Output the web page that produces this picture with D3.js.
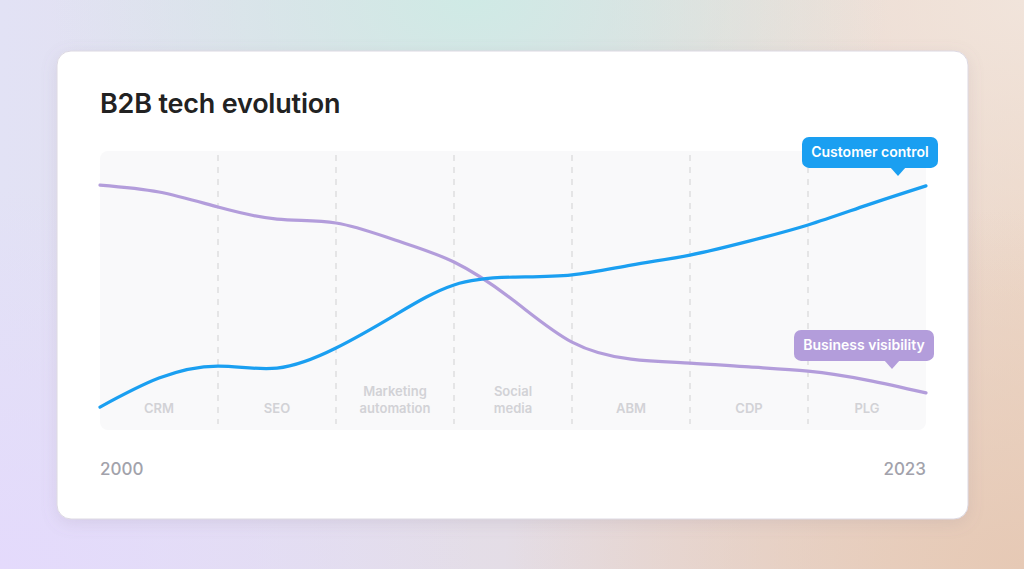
<!DOCTYPE html>
<html>
<head>
<meta charset="utf-8">
<script src="https://cdn.jsdelivr.net/npm/d3@7"></script>
<style>
  html, body { margin: 0; padding: 0; }
  body {
    width: 1024px; height: 569px; overflow: hidden;
    background:
      radial-gradient(ellipse 420px 260px at 470px 0px, #cfeae5 0%, rgba(207,234,229,0) 100%),
      radial-gradient(ellipse 520px 360px at 1024px 569px, #e6c9b5 0%, rgba(230,201,181,0) 100%),
      radial-gradient(ellipse 480px 380px at 0px 569px, #e4dafc 0%, rgba(228,218,252,0) 100%),
      radial-gradient(ellipse 420px 300px at 1024px 0px, #f1e4db 0%, rgba(241,228,219,0) 100%),
      linear-gradient(90deg, #e2e2f5 0%, #e4dde6 50%, #ecd7c8 100%);
    font-family: Inter, "Noto Sans", sans-serif;
  }
</style>
</head>
<body>
<div id="chart"></div>
<script>
// B2B tech evolution – two smoothed lines across seven eras

const stages = ["CRM", "SEO", "Marketing\nautomation", "Social\nmedia", "ABM", "CDP", "PLG"];
const steps = [0, 0.5, 1, 1.5, 2, 2.5, 3, 3.5, 4, 4.5, 5, 5.5, 6, 6.5, 7];
const control = [8.2, 18.6, 22.9, 22.2, 29.4, 41.2, 52, 54.8, 55.6, 59.1, 62.7, 67.7, 73.5, 80.6, 87.5];
const visibility = [87.8, 85.3, 79.9, 75.6, 74.2, 68.1, 60.2, 46.6, 31.5, 25.4, 24, 22.6, 21.1, 17.9, 13.3];
const yearLabels = ["2000", "2023"];

const W = 1024, H = 569;
const plot = { left: 100, right: 926, top: 151, bottom: 430 };

const svg = d3.select("#chart").append("svg")
  .attr("width", W)
  .attr("height", H);

const defs = svg.append("defs");
const sh = defs.append("filter").attr("id", "shadow")
  .attr("x", "-10%").attr("y", "-10%").attr("width", "120%").attr("height", "125%");
sh.append("feDropShadow")
  .attr("dx", 0).attr("dy", 4).attr("stdDeviation", 8)
  .attr("flood-color", "#8a7a90").attr("flood-opacity", 0.16);

// card
svg.append("rect")
  .attr("x", 57).attr("y", 51)
  .attr("width", 911).attr("height", 468)
  .attr("rx", 14)
  .attr("fill", "#fff")
  .attr("stroke", "#dcd8e2")
  .attr("filter", "url(#shadow)");

svg.append("text")
  .attr("x", 100).attr("y", 113)
  .attr("font-size", "27px")
  .attr("font-weight", 600)
  .attr("letter-spacing", "-0.2px")
  .attr("fill", "#222")
  .text("B2B tech evolution");

const x = d3.scaleLinear().domain([0, stages.length]).range([plot.left, plot.right]);
const y = d3.scaleLinear().domain([0, 100]).range([plot.bottom, plot.top]);

// plot background
svg.append("rect")
  .attr("x", plot.left).attr("y", plot.top)
  .attr("width", plot.right - plot.left)
  .attr("height", plot.bottom - plot.top)
  .attr("rx", 8)
  .attr("fill", "#f9f9fa");

// era dividers
svg.selectAll("line.div")
  .data(d3.range(1, stages.length))
  .enter().append("line")
    .attr("class", "div")
    .attr("x1", d => x(d)).attr("x2", d => x(d))
    .attr("y1", plot.top + 4).attr("y2", plot.bottom - 6)
    .attr("stroke", "#dedee0")
    .attr("stroke-width", 1.5)
    .attr("stroke-dasharray", "6,6");

// era labels
stages.forEach((s, i) => {
  const lines = s.split("\n");
  const t = svg.append("text")
    .attr("x", x(i + 0.5))
    .attr("text-anchor", "middle")
    .attr("font-size", "13px")
    .attr("font-weight", 600)
    .attr("fill", "#d2d2d6");
  lines.forEach((l, k) => {
    t.append("tspan")
      .attr("x", x(i + 0.5))
      .attr("y", 413 - (lines.length - 1 - k) * 17)
      .text(l);
  });
});

const line = d3.line()
  .x(d => x(d[0]))
  .y(d => y(d[1]))
  .curve(d3.curveNatural);

const series = [
  { name: "Business visibility", values: visibility, color: "#b39ddb", box: { w: 140, dx: 8, dy: -63, tip: -34 } },
  { name: "Customer control",   values: control,    color: "#1a9ff1", box: { w: 136, dx: 12, dy: -49, tip: -28 } }
];

series.forEach(s => {
  svg.append("path")
    .datum(steps.map((st, i) => [st, s.values[i]]))
    .attr("d", line)
    .attr("fill", "none")
    .attr("stroke", s.color)
    .attr("stroke-width", 3.2)
    .attr("stroke-linecap", "round");
});

// callouts at line ends
series.forEach(s => {
  const n = steps.length - 1;
  const ex = x(steps[n]), ey = y(s.values[n]);
  const bx = ex + s.box.dx - s.box.w, by = ey + s.box.dy, bh = 31;
  const tx = ex + s.box.tip;
  const g = svg.append("g");
  g.append("rect")
    .attr("x", bx).attr("y", by)
    .attr("width", s.box.w).attr("height", bh)
    .attr("rx", 7)
    .attr("fill", s.color);
  g.append("path")
    .attr("d", `M${tx - 8},${by + bh - 1} L${tx},${by + bh + 8} L${tx + 8},${by + bh - 1} Z`)
    .attr("fill", s.color);
  g.append("text")
    .attr("x", bx + s.box.w / 2)
    .attr("y", by + bh / 2 + 5)
    .attr("text-anchor", "middle")
    .attr("font-size", "14px")
    .attr("font-weight", 600)
    .attr("fill", "#fff")
    .text(s.name);
});

// year ends
svg.append("text")
  .attr("x", plot.left).attr("y", 475)
  .attr("font-size", "17px")
  .attr("font-weight", 500)
  .attr("fill", "#a2a2ab")
  .text(yearLabels[0]);

svg.append("text")
  .attr("x", plot.right).attr("y", 475)
  .attr("text-anchor", "end")
  .attr("font-size", "17px")
  .attr("font-weight", 500)
  .attr("fill", "#a2a2ab")
  .text(yearLabels[1]);
</script>
</body>
</html>
